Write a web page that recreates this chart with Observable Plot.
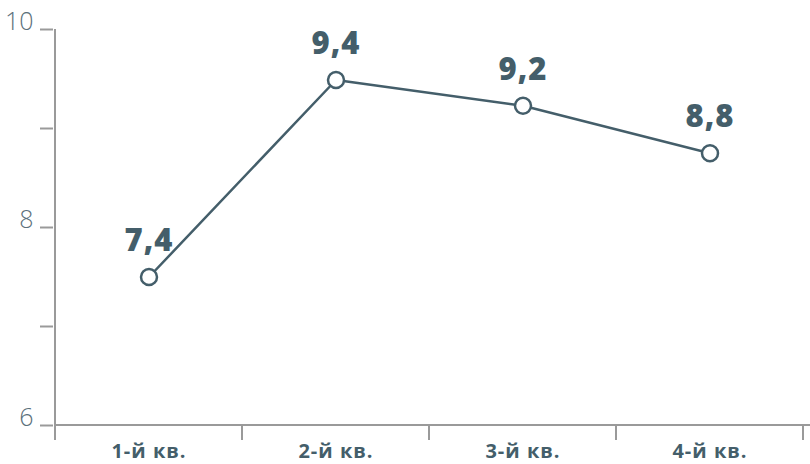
<!DOCTYPE html>
<html>
<head>
<meta charset="utf-8">
<script src="https://cdn.jsdelivr.net/npm/d3@7"></script>
<script src="https://cdn.jsdelivr.net/npm/@observablehq/plot@0.6"></script>
<style>
  html, body { margin: 0; padding: 0; background: #fff; }
  .value-labels text { letter-spacing: 1px; }
  .x-labels text { letter-spacing: 1px; }
</style>
</head>
<body>
<div id="chart"></div>
<script>
const categories = ["1-й кв.", "2-й кв.", "3-й кв.", "4-й кв."];
const values = [7.5, 9.49, 9.23, 8.75];
const valueLabels = ["7,4", "9,4", "9,2", "8,8"];
const yTicks = [6, 7, 8, 9, 10];
const yTickLabels = {6: "6", 8: "8", 10: "10"};

const data = categories.map((c, i) => ({cat: c, value: values[i], label: valueLabels[i]}));

const dark = "#445e6a";
const axisGrey = "#9a9a9a";

const chart = Plot.plot({
  width: 810,
  height: 464,
  marginLeft: 53,
  marginRight: 6,
  marginTop: 29,
  marginBottom: 39,
  style: {fontFamily: "'Open Sans', sans-serif", background: "#fff", overflow: "visible"},
  x: {type: "band", domain: categories, padding: 0},
  y: {domain: [6, 10]},
  marks: [
    // y tick marks
    Plot.axisY({
      ticks: yTicks,
      tickSize: 13,
      tickFormat: () => "",
      stroke: axisGrey,
      strokeWidth: 2,
      label: null
    }),
    // y tick labels (raised slightly above their ticks)
    Plot.axisY({
      ticks: yTicks,
      tickSize: 0,
      tickPadding: 20,
      tickFormat: d => yTickLabels[d] ?? "",
      strokeOpacity: 0,
      fill: "#5b707b",
      fontSize: 25,
      fontWeight: 300,
      dy: -8,
      label: null
    }),
    Plot.axisX({
      tickSize: 0,
      tickPadding: 18,
      fill: dark,
      fontSize: 20,
      fontWeight: 700,
      label: null,
      className: "x-labels"
    }),
    Plot.line(data, {x: "cat", y: "value", stroke: dark, strokeWidth: 2.5}),
    Plot.dot(data, {x: "cat", y: "value", r: 8, fill: "#fff", stroke: dark, strokeWidth: 2.5}),
    Plot.text(data, {x: "cat", y: "value", text: "label", dy: -36, fontSize: 31, fontWeight: 800, fill: dark, className: "value-labels"})
  ]
});

document.getElementById("chart").appendChild(chart);

// Axis lines and category boundary ticks, positioned through Plot's own scales
const xs = chart.scale("x");
const ys = chart.scale("y");
const svg = d3.select(chart);
const g = svg.insert("g", ":first-child").attr("stroke", axisGrey).attr("stroke-width", 2);
const starts = categories.map(c => xs.apply(c));
const boundaries = [...starts, starts[starts.length - 1] + xs.bandwidth];
const y0 = ys.apply(6);
const yTop = ys.apply(10);
const x0 = starts[0];
g.append("line").attr("x1", x0).attr("x2", 810).attr("y1", y0).attr("y2", y0);
g.append("line").attr("x1", x0).attr("x2", x0).attr("y1", yTop).attr("y2", y0 + 10);
boundaries.forEach(b => {
  g.append("line").attr("x1", b).attr("x2", b).attr("y1", y0).attr("y2", y0 + 15);
});
</script>
</body>
</html>
